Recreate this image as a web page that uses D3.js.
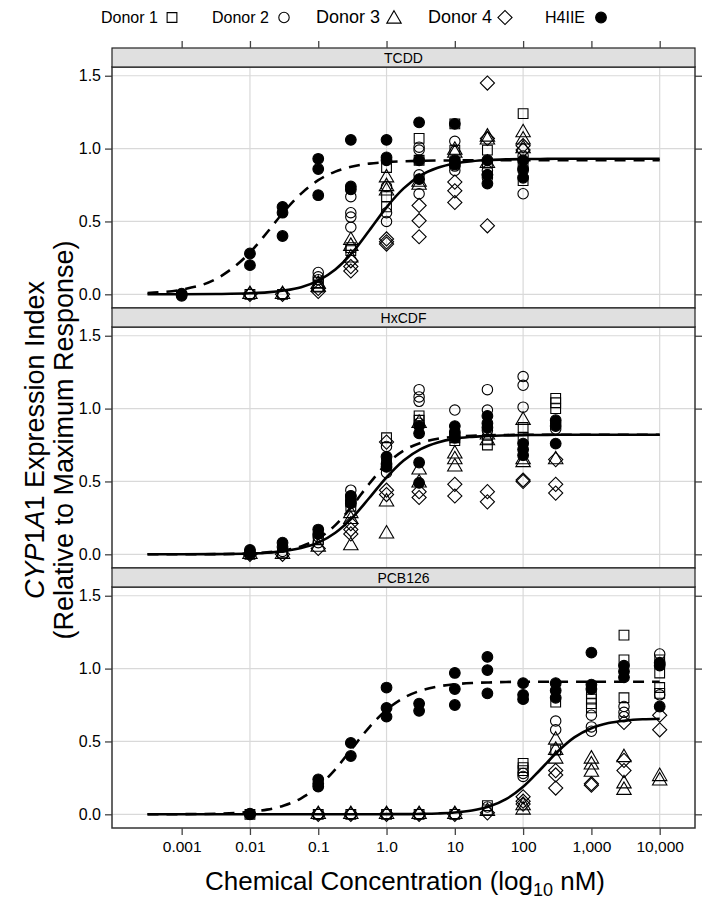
<!DOCTYPE html>
<html>
<head>
<meta charset="utf-8">
<script src="https://cdn.jsdelivr.net/npm/d3@7"></script>
<style>
  body { margin: 0; background: #fff; }
  text { font-family: "Liberation Sans", Arial, sans-serif; fill: #000; }
</style>
</head>
<body>
<div id="chart"></div>
<script>
// ---- data ----
const panelNames = ['TCDD', 'HxCDF', 'PCB126'];
const seriesNames = ['Donor 1', 'Donor 2', 'Donor 3', 'Donor 4', 'H4IIE'];
const xTicks = [0.001, 0.01, 0.1, 1, 10, 100, 1000, 10000];
const xTickLabels = ['0.001', '0.01', '0.1', '1.0', '10', '100', '1,000', '10,000'];
const xGrid = [0.01, 1, 100, 10000];
const yTicks = [0, 0.5, 1, 1.5];

// concentrations at which the fitted curves were read
const curveConc = [0.000316, 0.001, 0.00316, 0.01, 0.0178, 0.0316, 0.0562, 0.1, 0.178, 0.316,
  0.562, 1, 1.78, 3.16, 5.62, 10, 17.8, 31.6, 56.2, 100, 178, 316, 562, 1000, 1780, 3160, 5620, 10000];

const tcddDonorFit = [0, 0, 0.002, 0.007, 0.013, 0.026, 0.049, 0.094, 0.170, 0.287, 0.440, 0.597, 0.727, 0.816,
  0.869, 0.898, 0.914, 0.922, 0.926, 0.928, 0.929, 0.93, 0.93, 0.93, 0.93, 0.93, 0.93, 0.93];
const tcddH4Fit = [0.009, 0.032, 0.104, 0.287, 0.424, 0.568, 0.691, 0.783, 0.842, 0.877, 0.897, 0.907, 0.913, 0.916,
  0.918, 0.919, 0.92, 0.92, 0.92, 0.92, 0.92, 0.92, 0.92, 0.92, 0.92, 0.92, 0.92, 0.92];
const hxDonorFit = [0, 0, 0.001, 0.005, 0.011, 0.022, 0.043, 0.080, 0.148, 0.252, 0.388, 0.528, 0.644, 0.722,
  0.768, 0.794, 0.806, 0.813, 0.816, 0.818, 0.819, 0.82, 0.82, 0.82, 0.82, 0.82, 0.82, 0.82];
const hxH4Fit = [0, 0, 0.001, 0.006, 0.013, 0.027, 0.054, 0.108, 0.200, 0.333, 0.486, 0.620, 0.712, 0.765,
  0.793, 0.807, 0.814, 0.817, 0.819, 0.82, 0.82, 0.82, 0.82, 0.82, 0.82, 0.82, 0.82, 0.82];
const pcbDonorFit = [0, 0, 0, 0, 0, 0, 0, 0, 0, 0, 0, 0.001, 0.001, 0.003, 0.006, 0.012, 0.026, 0.053,
  0.104, 0.189, 0.306, 0.428, 0.528, 0.591, 0.626, 0.643, 0.652, 0.656];
const pcbH4Fit = [0, 0.001, 0.004, 0.017, 0.032, 0.060, 0.110, 0.191, 0.309, 0.455, 0.599, 0.717, 0.799, 0.849,
  0.877, 0.893, 0.901, 0.905, 0.908, 0.91, 0.91, 0.91, 0.91, 0.91, 0.91, 0.91, 0.91, 0.91];

// observations: [concentration nM, relative response]
const tcddDonor1 = [[0.01, 0], [0.03, 0], [0.1, 0.08], [0.1, 0.05], [0.3, 0.32], [0.3, 0.30], [1, 0.87], [1, 0.67],
  [1, 0.60], [3, 1.07], [3, 0.92], [10, 1.17], [10, 0.99], [10, 0.90], [30, 0.99], [30, 0.90], [100, 1.24], [100, 0.78], [100, 0.90]];
const tcddDonor2 = [[0.01, 0], [0.03, 0], [0.1, 0.15], [0.1, 0.12], [0.1, 0.10], [0.3, 0.67], [0.3, 0.56], [0.3, 0.53],
  [0.3, 0.46], [1, 0.56], [1, 0.50], [1, 0.74], [3, 1.01], [3, 0.99], [3, 0.69], [3, 0.82], [10, 1.05], [10, 0.85], [10, 0.88],
  [30, 0.85], [30, 0.82], [30, 0.80], [100, 0.69], [100, 0.85], [100, 0.95]];
const tcddDonor3 = [[0.01, 0], [0.03, 0], [0.1, 0.05], [0.1, 0.07], [0.3, 0.37], [0.3, 0.33], [0.3, 0.25], [1, 0.80],
  [1, 0.74], [1, 0.71], [3, 0.75], [3, 0.77], [10, 0.97], [10, 0.99], [30, 1.08], [30, 1.06], [30, 0.90], [100, 1.11],
  [100, 1.06], [100, 1.00]];
const tcddDonor4 = [[0.01, 0], [0.03, 0], [0.1, 0.02], [0.1, 0.04], [0.3, 0.23], [0.3, 0.16], [0.3, 0.19], [1, 0.38],
  [1, 0.36], [1, 0.345], [3, 0.61], [3, 0.505], [3, 0.395], [10, 0.77], [10, 0.71], [10, 0.63], [30, 1.45], [30, 1.07],
  [30, 0.47], [100, 1.02], [100, 0.99]];
const tcddH4 = [[0.001, 0], [0.001, -0.01], [0.001, 0.005], [0.01, 0.28], [0.01, 0.20], [0.03, 0.60], [0.03, 0.56],
  [0.03, 0.40], [0.1, 0.93], [0.1, 0.86], [0.1, 0.68], [0.3, 1.06], [0.3, 0.74], [0.3, 0.72], [1, 1.06], [1, 0.94],
  [1, 0.92], [3, 1.18], [3, 0.92], [3, 0.79], [10, 1.17], [10, 0.92], [10, 0.89], [30, 0.92], [30, 0.82], [30, 0.76],
  [100, 0.92], [100, 0.86], [100, 0.80]];

const hxDonor1 = [[0.01, 0], [0.03, 0.01], [0.1, 0.10], [0.3, 0.36], [0.3, 0.33], [1, 0.80], [1, 0.62], [3, 0.95],
  [3, 0.92], [10, 0.78], [10, 0.80], [30, 0.79], [30, 0.75], [100, 0.87], [100, 0.80], [300, 1.07], [300, 1.04], [300, 1.00]];
const hxDonor2 = [[0.01, 0], [0.03, 0.02], [0.1, 0.08], [0.1, 0.12], [0.3, 0.44], [0.3, 0.40], [1, 0.74], [1, 0.56],
  [3, 1.13], [3, 1.08], [3, 1.05], [3, 0.90], [10, 0.99], [10, 0.82], [30, 1.13], [30, 0.99], [30, 0.85], [100, 1.22],
  [100, 1.16], [100, 1.01], [300, 0.90], [300, 0.86]];
const hxDonor3 = [[0.01, 0], [0.03, 0], [0.1, 0.05], [0.3, 0.28], [0.3, 0.24], [0.3, 0.06], [1, 0.36], [1, 0.14],
  [3, 0.58], [3, 0.49], [3, 0.90], [10, 0.69], [10, 0.65], [10, 0.60], [30, 0.78], [30, 0.82], [100, 0.92], [100, 0.63],
  [100, 0.65], [300, 0.65]];
const hxDonor4 = [[0.01, 0], [0.03, 0], [0.1, 0.04], [0.3, 0.17], [0.3, 0.14], [0.3, 0.21], [1, 0.77], [1, 0.41],
  [1, 0.44], [3, 0.39], [3, 0.43], [10, 0.48], [10, 0.40], [30, 0.43], [30, 0.36], [100, 0.51], [100, 0.50], [300, 0.65],
  [300, 0.48], [300, 0.42]];
const hxH4 = [[0.01, 0.03], [0.01, 0.01], [0.03, 0.08], [0.03, 0.05], [0.1, 0.17], [0.1, 0.14], [0.3, 0.40], [0.3, 0.37],
  [0.3, 0.35], [1, 0.67], [1, 0.62], [1, 0.60], [3, 0.88], [3, 0.83], [3, 0.63], [3, 0.49], [10, 0.88], [10, 0.84],
  [10, 0.80], [30, 0.95], [30, 0.90], [30, 0.87], [100, 0.76], [100, 0.72], [100, 0.68], [300, 0.92], [300, 0.88], [300, 0.76]];

const pcbDonor1 = [[0.01, 0], [0.1, 0], [0.3, 0], [1, 0], [3, 0], [10, 0], [30, 0.06], [30, 0.03], [100, 0.35], [100, 0.32],
  [100, 0.30], [300, 0.77], [300, 0.44], [1000, 0.83], [1000, 0.79], [1000, 0.76], [1000, 0.73], [3000, 1.23], [3000, 1.06],
  [3000, 0.80], [10000, 1.06], [10000, 0.97], [10000, 0.87], [10000, 0.83]];
const pcbDonor2 = [[0.01, 0], [0.1, 0], [0.3, 0], [1, 0], [3, 0], [10, 0], [30, 0.05], [100, 0.26], [100, 0.28], [300, 0.64],
  [300, 0.58], [1000, 0.68], [1000, 0.60], [1000, 0.57], [3000, 0.74], [3000, 0.70], [3000, 0.67], [10000, 1.10],
  [10000, 1.03], [10000, 0.82]];
const pcbDonor3 = [[0.1, 0], [0.3, 0], [1, 0], [3, 0], [10, 0], [30, 0.02], [100, 0.03], [100, 0.06], [300, 0.51],
  [300, 0.44], [300, 0.38], [1000, 0.38], [1000, 0.34], [1000, 0.29], [3000, 0.39], [3000, 0.21], [3000, 0.165],
  [10000, 0.26], [10000, 0.23]];
const pcbDonor4 = [[0.1, 0], [0.3, 0], [1, 0], [3, 0], [10, 0], [30, 0.01], [100, 0.12], [100, 0.09], [100, 0.07],
  [300, 0.30], [300, 0.27], [300, 0.18], [1000, 0.21], [1000, 0.20], [3000, 0.37], [3000, 0.30], [3000, 0.63],
  [10000, 0.68], [10000, 0.58]];
const pcbH4 = [[0.01, 0.005], [0.01, 0], [0.1, 0.24], [0.1, 0.21], [0.1, 0.19], [0.3, 0.49], [0.3, 0.40], [1, 0.87],
  [1, 0.73], [1, 0.67], [3, 0.76], [3, 0.71], [10, 0.97], [10, 0.86], [10, 0.75], [30, 1.08], [30, 0.99], [30, 0.83],
  [100, 0.90], [100, 0.82], [100, 0.79], [300, 0.90], [300, 0.85], [300, 0.80], [1000, 1.11], [1000, 0.89], [1000, 0.86],
  [3000, 1.02], [3000, 0.98], [3000, 0.94], [10000, 1.04], [10000, 1.02], [10000, 0.74]];

// ---- layout ----
const width = 705, height = 900;
const plotLeft = 112, plotRight = 695;
const stripTop0 = 48, stripH = 19, panelH = 241, pitch = 260;

const panels = [
  { name: panelNames[0], pts: [tcddDonor1, tcddDonor2, tcddDonor3, tcddDonor4, tcddH4], fits: [tcddDonorFit, tcddH4Fit] },
  { name: panelNames[1], pts: [hxDonor1, hxDonor2, hxDonor3, hxDonor4, hxH4], fits: [hxDonorFit, hxH4Fit] },
  { name: panelNames[2], pts: [pcbDonor1, pcbDonor2, pcbDonor3, pcbDonor4, pcbH4], fits: [pcbDonorFit, pcbH4Fit] }
];

const svg = d3.select('#chart').append('svg')
  .attr('width', width)
  .attr('height', height);

const x = d3.scaleLog()
  .domain([Math.pow(10, -4.02), Math.pow(10, 4.517)])
  .range([plotLeft, plotRight]);

// marker drawing for each series
const symbolSpecs = [
  { type: d3.symbolSquare, size: 95, rot: 0, fill: 'none' },
  { type: d3.symbolCircle, size: 85, rot: 0, fill: 'none' },
  { type: d3.symbolTriangle, size: 90, rot: 0, fill: 'none' },
  { type: d3.symbolSquare, size: 100, rot: 45, fill: 'none' },
  { type: d3.symbolCircle, size: 90, rot: 0, fill: '#000' }
];
function drawSymbol(g, s, cx, cy) {
  const spec = symbolSpecs[s];
  g.append('path')
    .attr('d', d3.symbol().type(spec.type).size(spec.size)())
    .attr('transform', `translate(${cx},${cy}) rotate(${spec.rot})`)
    .attr('fill', spec.fill)
    .attr('stroke', '#000')
    .attr('stroke-width', 1.1);
}

panels.forEach((p, i) => {
  const stripTop = stripTop0 + i * pitch;
  const top = stripTop + stripH;
  const y = d3.scaleLinear().domain([-0.094, 1.56]).range([top + panelH, top]);
  const g = svg.append('g');

  // gridlines
  g.selectAll('line.gx').data(xGrid).enter().append('line')
    .attr('x1', d => x(d)).attr('x2', d => x(d))
    .attr('y1', top).attr('y2', top + panelH)
    .attr('stroke', '#d9d9d9').attr('stroke-width', 1.2);
  g.selectAll('line.gy').data(yTicks).enter().append('line')
    .attr('x1', plotLeft).attr('x2', plotRight)
    .attr('y1', d => y(d)).attr('y2', d => y(d))
    .attr('stroke', '#d9d9d9').attr('stroke-width', 1.2);

  // points
  p.pts.forEach((arr, s) => {
    arr.forEach(d => drawSymbol(g, s, x(d[0]), y(d[1])));
  });

  // fitted curves
  const line = d3.line()
    .x((d, k) => x(curveConc[k]))
    .y(d => y(d))
    .curve(d3.curveMonotoneX);
  g.append('path').datum(p.fits[0])
    .attr('d', line).attr('fill', 'none')
    .attr('stroke', '#000').attr('stroke-width', 2.6);
  g.append('path').datum(p.fits[1])
    .attr('d', line).attr('fill', 'none')
    .attr('stroke', '#000').attr('stroke-width', 2.6)
    .attr('stroke-dasharray', '11,8');

  // left axis
  const ax = g.append('g').attr('transform', `translate(${plotLeft},0)`)
    .call(d3.axisLeft(y).tickValues(yTicks).tickFormat(d3.format('.1f')).tickSize(7).tickPadding(4));
  ax.select('.domain').remove();
  ax.selectAll('line').attr('stroke', '#444').attr('stroke-width', 1.3);
  ax.selectAll('text').style('font-size', '16px').attr('fill', '#000');

  // right ticks
  const ar = g.append('g').attr('transform', `translate(${plotRight},0)`)
    .call(d3.axisRight(y).tickValues(yTicks).tickFormat('').tickSize(7));
  ar.select('.domain').remove();
  ar.selectAll('line').attr('stroke', '#444').attr('stroke-width', 1.3);

  // panel frame
  g.append('rect')
    .attr('x', plotLeft).attr('y', top)
    .attr('width', plotRight - plotLeft).attr('height', panelH)
    .attr('fill', 'none').attr('stroke', '#333').attr('stroke-width', 1.5);

  // strip
  g.append('rect')
    .attr('x', plotLeft).attr('y', stripTop)
    .attr('width', plotRight - plotLeft).attr('height', stripH)
    .attr('fill', '#e0e0e0').attr('stroke', '#222').attr('stroke-width', 1.2);
  g.append('text')
    .attr('x', (plotLeft + plotRight) / 2).attr('y', stripTop + 14.5)
    .attr('text-anchor', 'middle')
    .style('font-size', '14px')
    .text(p.name);

  if (i === panels.length - 1) {
    const ab = g.append('g').attr('transform', `translate(0,${top + panelH})`)
      .call(d3.axisBottom(x).tickValues(xTicks).tickFormat((d, k) => xTickLabels[k]).tickSize(7).tickPadding(6));
    ab.select('.domain').remove();
    ab.selectAll('line').attr('stroke', '#444').attr('stroke-width', 1.3);
    ab.selectAll('text').style('font-size', '15.5px').attr('fill', '#000');
  }
  if (i === 0) {
    const at = g.append('g').attr('transform', `translate(0,${stripTop})`)
      .call(d3.axisTop(x).tickValues(xTicks).tickFormat('').tickSize(7));
    at.select('.domain').remove();
    at.selectAll('line').attr('stroke', '#444').attr('stroke-width', 1.3);
  }
});

// legend
const legendItems = [
  { label: seriesNames[0], tx: 101, sx: 172, fs: 16 },
  { label: seriesNames[1], tx: 212, sx: 284, fs: 16 },
  { label: seriesNames[2], tx: 316, sx: 394, fs: 18 },
  { label: seriesNames[3], tx: 428, sx: 505, fs: 18 },
  { label: seriesNames[4], tx: 545, sx: 601, fs: 16 }
];
const lg = svg.append('g');
legendItems.forEach((d, s) => {
  lg.append('text').attr('x', d.tx).attr('y', 23)
    .style('font-size', d.fs + 'px').text(d.label);
  drawSymbol(lg, s, d.sx, s === 2 ? 19 : 17.5);
});

// axis titles
svg.append('text')
  .attr('x', 405).attr('y', 890)
  .attr('text-anchor', 'middle')
  .style('font-size', '26px')
  .call(t => {
    t.append('tspan').text('Chemical Concentration (log');
    t.append('tspan').attr('dy', 6).style('font-size', '18px').text('10');
    t.append('tspan').attr('dy', -6).text(' nM)');
  });

const yt = svg.append('g').attr('transform', 'translate(0,440) rotate(-90)');
yt.append('text')
  .attr('x', 0).attr('y', 44)
  .attr('text-anchor', 'middle')
  .style('font-size', '27px')
  .call(t => {
    t.append('tspan').style('font-style', 'italic').text('CYP');
    t.append('tspan').text('1');
    t.append('tspan').style('font-style', 'italic').text('A');
    t.append('tspan').text('1 Expression Index');
  });
yt.append('text')
  .attr('x', 0).attr('y', 73)
  .attr('text-anchor', 'middle')
  .style('font-size', '27px')
  .text('(Relative to Maximum Response)');
</script>
</body>
</html>
